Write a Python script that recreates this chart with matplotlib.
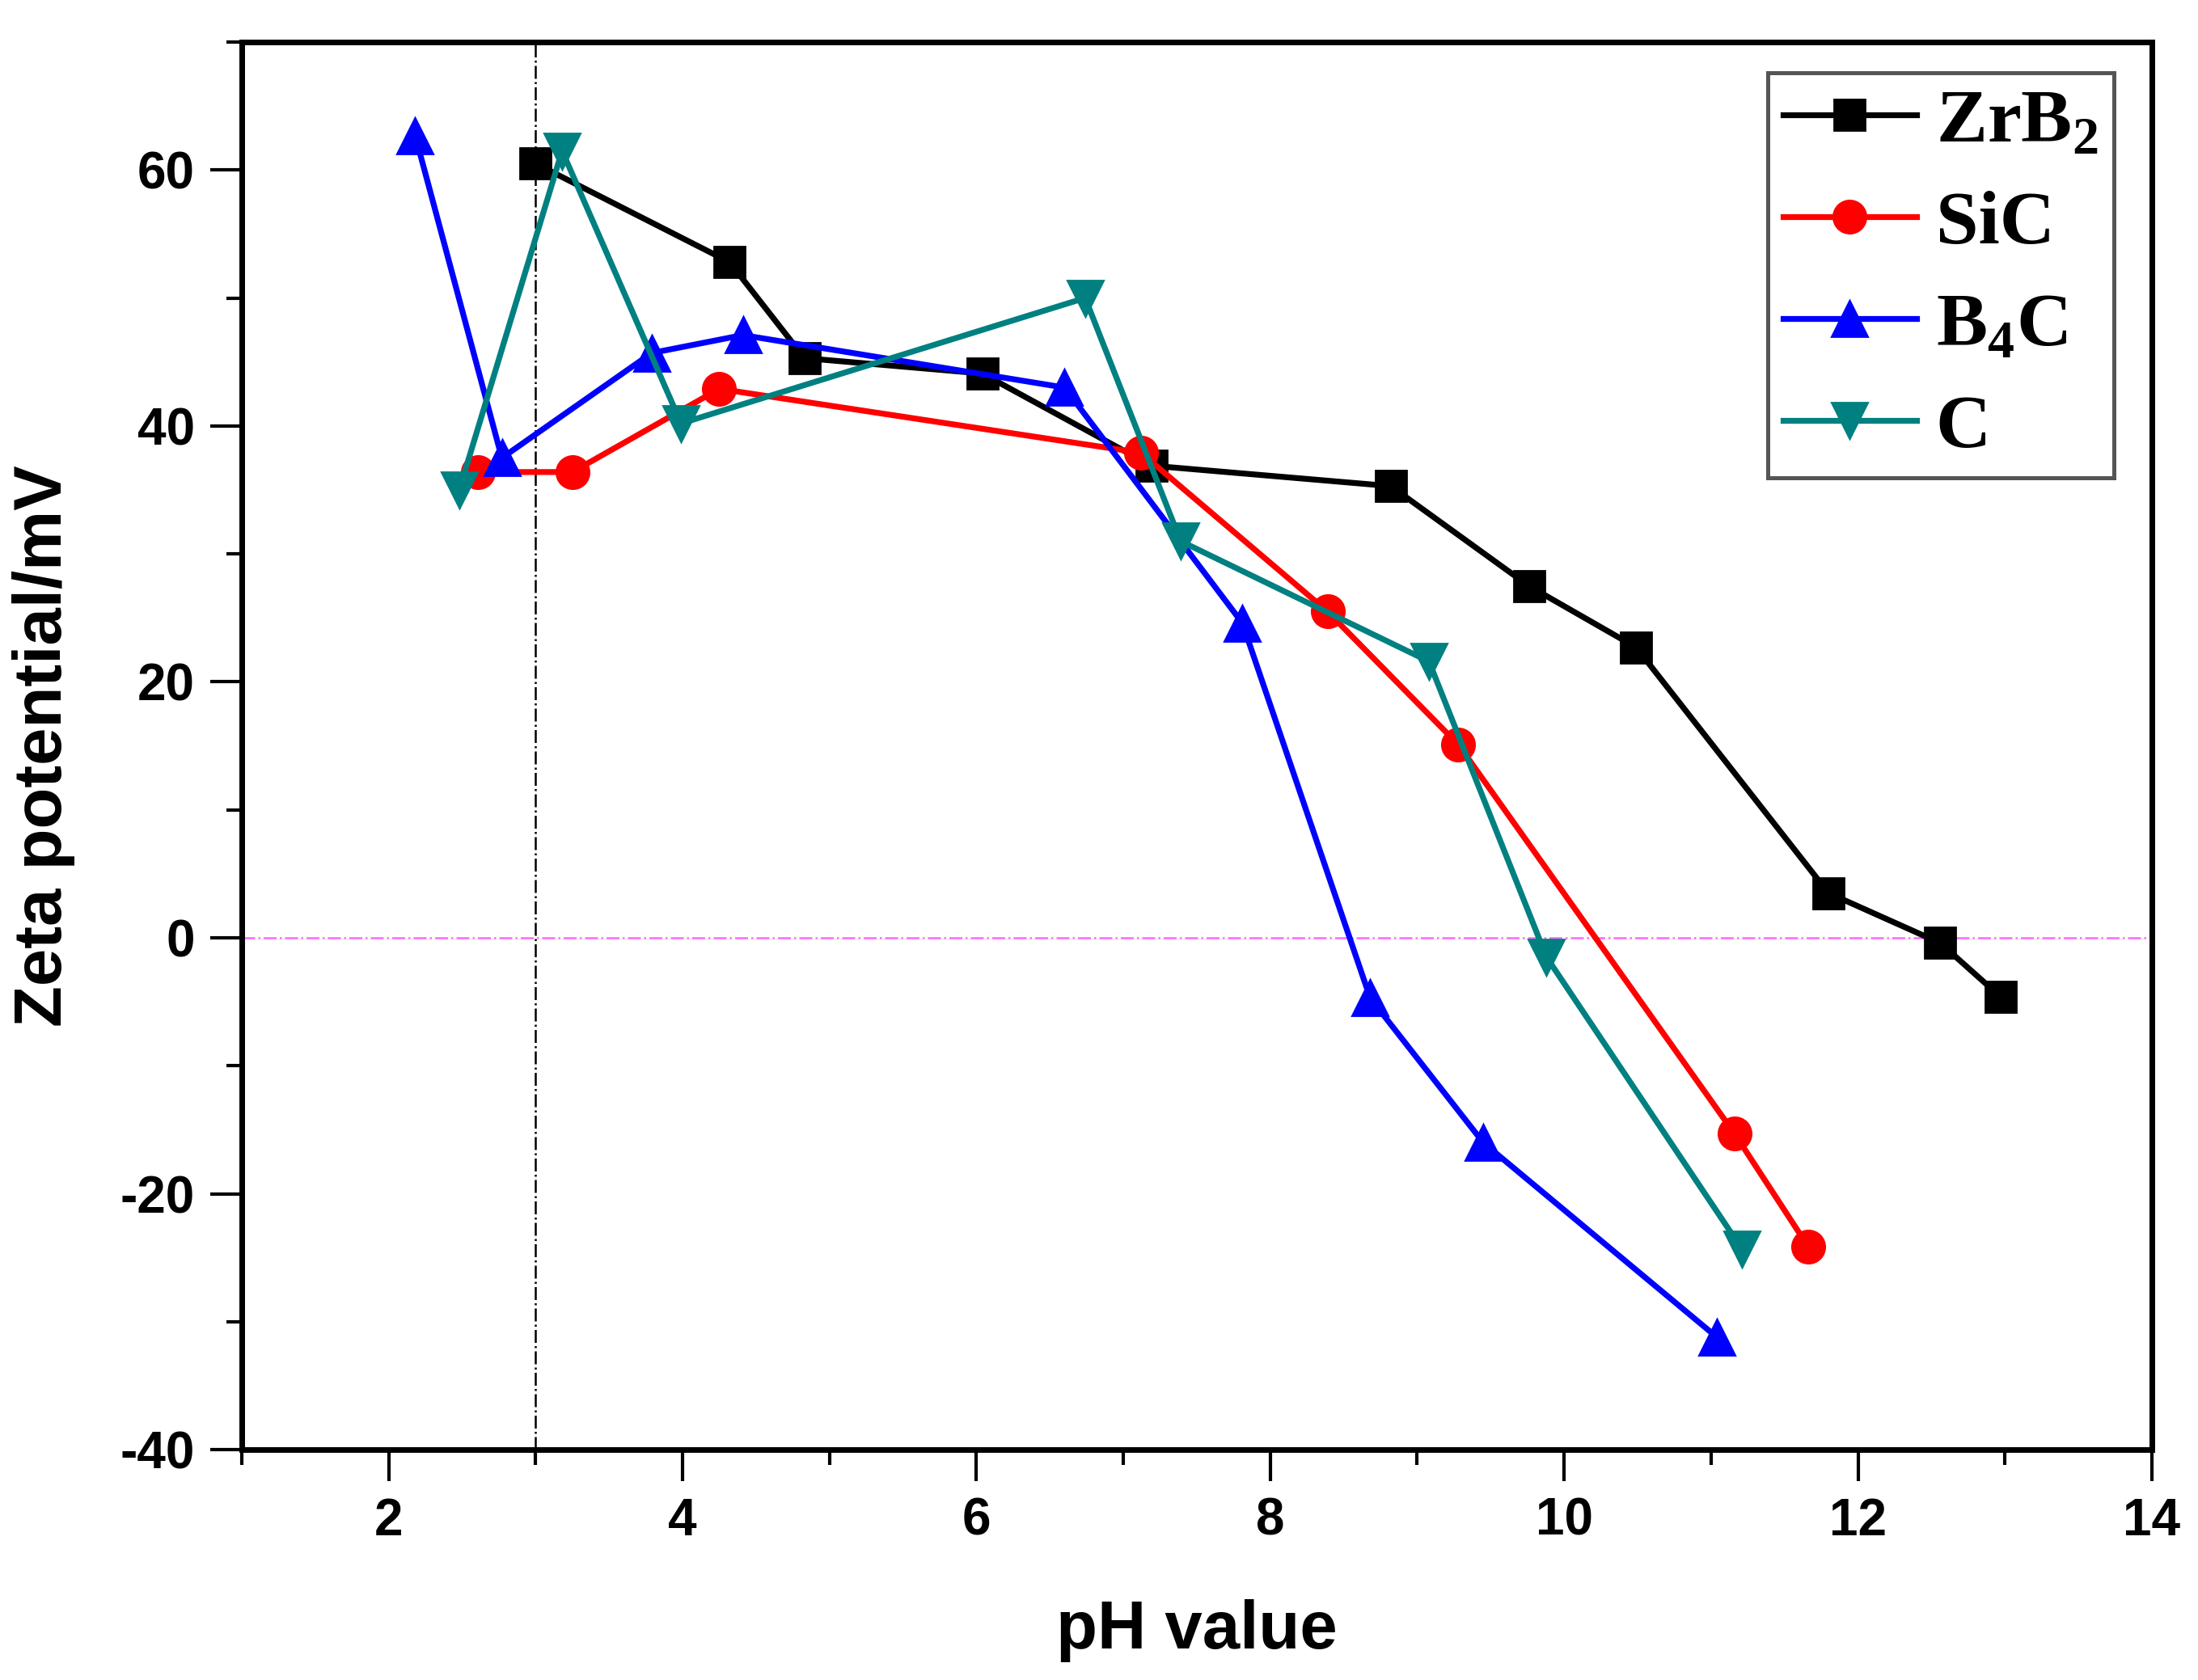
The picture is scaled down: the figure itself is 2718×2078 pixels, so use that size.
import numpy as np
import matplotlib
matplotlib.use('Agg')
import matplotlib.pyplot as plt
from matplotlib.ticker import MultipleLocator

plt.rcParams['font.family'] = ['Liberation Sans', 'DejaVu Sans']
plt.rcParams['font.weight'] = 'bold'
plt.rcParams['axes.unicode_minus'] = False
plt.rcParams['mathtext.fontset'] = 'custom'
plt.rcParams['mathtext.rm'] = 'Liberation Serif:bold'
plt.rcParams['mathtext.bf'] = 'Liberation Serif:bold'

# data
ph_zrb2 = [3.00, 4.32, 4.83, 6.04, 7.19, 8.82, 9.76, 10.49, 11.80, 12.56, 12.97]
zeta_zrb2 = [60.5, 52.8, 45.3, 44.1, 36.9, 35.3, 27.5, 22.7, 3.5, -0.4, -4.6]

ph_sic = [2.61, 3.25, 4.25, 7.12, 8.39, 9.28, 11.16, 11.66]
zeta_sic = [36.4, 36.4, 42.9, 37.9, 25.5, 15.1, -15.3, -24.1]

ph_b4c = [2.18, 2.77, 3.79, 4.41, 6.60, 7.81, 8.68, 9.45, 11.04]
zeta_b4c = [62.7, 37.5, 45.7, 47.1, 43.0, 24.6, -4.7, -16.0, -31.2]

ph_c = [2.48, 3.18, 3.99, 6.74, 7.39, 9.08, 9.88, 11.21]
zeta_c = [35.0, 61.5, 40.2, 50.0, 31.0, 21.6, -1.5, -24.3]

labels = [r'ZrB$_{\mathrm{2}}$', 'SiC', r'B$_{\mathrm{4}}$C', 'C']
colors = ['black', 'red', 'blue', '#008080']
markers = ['s', 'o', '^', 'v']
msizes = [13.5, 14.5, 16, 16]

fig = plt.figure(figsize=(13.59, 10.39), dpi=200)
ax = fig.add_axes([0.110, 0.137, 0.869, 0.838])

series = [(ph_zrb2, zeta_zrb2), (ph_sic, zeta_sic), (ph_b4c, zeta_b4c), (ph_c, zeta_c)]
for (x, y), lab, c, m, ms in zip(series, labels, colors, markers, msizes):
    ax.plot(x, y, color=c, marker=m, markersize=ms, linewidth=2.6, label=lab)

# reference lines
ax.axvline(3, color='black', linestyle='-.', linewidth=0.9, zorder=0)
ax.axhline(0, color='#ff66ff', linestyle='-.', linewidth=0.9, zorder=0)

ax.set_xlim(1, 14)
ax.set_ylim(-40, 70)
ax.xaxis.set_minor_locator(MultipleLocator(1))
ax.yaxis.set_minor_locator(MultipleLocator(10))
ax.set_xticks([2, 4, 6, 8, 10, 12, 14])
ax.set_yticks([-40, -20, 0, 20, 40, 60])

for s in ax.spines.values():
    s.set_linewidth(2.5)
ax.tick_params(which='major', direction='out', length=14, width=1.5, labelsize=23, pad=7)
ax.tick_params(which='minor', direction='out', length=7, width=1.5)
ax.tick_params(top=False, right=False, which='both')

ax.set_xlabel('pH value', fontsize=30, fontweight='bold', labelpad=24)
ax.set_ylabel('Zeta potential/mV', fontsize=30, fontweight='bold', labelpad=20)

leg = ax.legend(loc='upper right', bbox_to_anchor=(0.980, 0.978), borderaxespad=0,
                fancybox=False, framealpha=1, edgecolor='#555555', handlelength=1.75,
                labelspacing=0.42, borderpad=0.2, handletextpad=0.25,
                prop={'family': 'Liberation Serif', 'weight': 'bold', 'size': 34})
leg.get_frame().set_linewidth(1.8)

fig.savefig('out.png', dpi=200)
